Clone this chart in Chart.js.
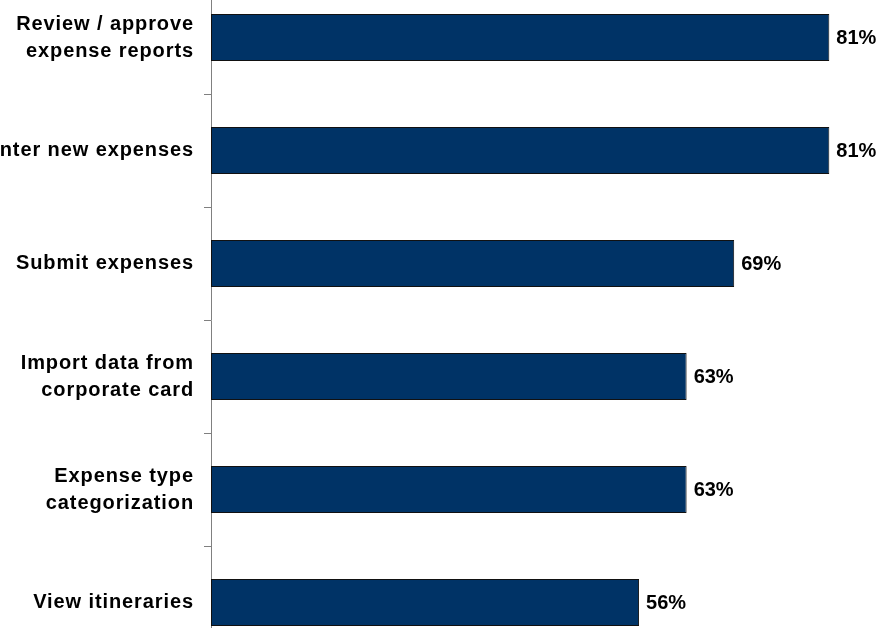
<!DOCTYPE html>
<html>
<head>
<meta charset="utf-8">
<script src="https://cdn.jsdelivr.net/npm/chart.js@4/dist/chart.umd.min.js"></script>
<style>
  html, body { margin: 0; padding: 0; background: #fff; overflow: hidden; }
  body { width: 878px; height: 628px; position: relative; }
  .wrap { position: absolute; left: 0; top: -19px; width: 980px; height: 678px; }
</style>
</head>
<body>
<div class="wrap"><canvas id="myChart"></canvas></div>
<script>
// categories, top to bottom
var categories = [
    ['Review / approve', 'expense reports'],
    'Enter new expenses',
    'Submit expenses',
    ['Import data from', 'corporate card'],
    ['Expense type', 'categorization'],
    'View itineraries'
];
// share of respondents (%)
var values = [81.25, 81.25, 68.75, 62.5, 62.5, 56.25];

var FONT = '"Liberation Sans", Arial, Helvetica, sans-serif';

// the original text is a touch wider than plain Arial bold
var spacing = {
    id: 'spacing',
    beforeLayout(chart){ chart.ctx.letterSpacing = '0.9px'; },
    beforeDraw(chart){ chart.ctx.letterSpacing = '0.9px'; }
};

// writes "81%" etc. just right of each bar
var valueLabels = {
    id: 'valueLabels',
    afterDatasetsDraw(chart){
        var ctx = chart.ctx;
        var meta = chart.getDatasetMeta(0);
        ctx.save();
        ctx.letterSpacing = '0px';
        ctx.font = 'bold 20px ' + FONT;
        ctx.fillStyle = '#000';
        ctx.textAlign = 'left';
        ctx.textBaseline = 'middle';
        meta.data.forEach( (bar, i) => {
            ctx.fillText(Math.round(values[i]) + '%', bar.x + 7, bar.y + 1);
        });
        ctx.restore();
    }
};

var ctx = document.getElementById('myChart');

// eslint-disable-next-line no-unused-vars
var myChart = new Chart(ctx, {
    type: 'bar',
    data: {
        labels: categories,
        datasets: [{
            data: values,
            backgroundColor: '#003366',
            borderColor: '#111',
            borderWidth: 1,
            borderSkipped: false,
            categoryPercentage: 1,
            barPercentage: 0.416
        }]
    },
    options: {
        indexAxis: 'y',
        responsive: true,
        maintainAspectRatio: false,
        animation: false,
        layout: { padding: { left: 0, right: 8, top: 0, bottom: 0 } },
        plugins: {
            legend: { display: false },
            tooltip: { enabled: false }
        },
        scales: {
            x: {
                display: false,
                min: 0,
                max: 100
            },
            y: {
                afterFit(scale){
                    scale.width = 211;
                    // let the plot run to the top/bottom edges
                    scale.paddingTop = 0;
                    scale.paddingBottom = 0;
                },
                grid: {
                    drawOnChartArea: false,
                    drawTicks: true,
                    tickLength: 7,
                    color: '#808080',
                    offset: true
                },
                border: { display: true, color: '#808080', width: 1 },
                ticks: {
                    padding: 10,
                    color: '#000',
                    font: { family: FONT, size: 20, weight: 'bold', lineHeight: 1.35 }
                }
            }
        }
    },
    plugins: [spacing, valueLabels]
});
</script>
</body>
</html>
